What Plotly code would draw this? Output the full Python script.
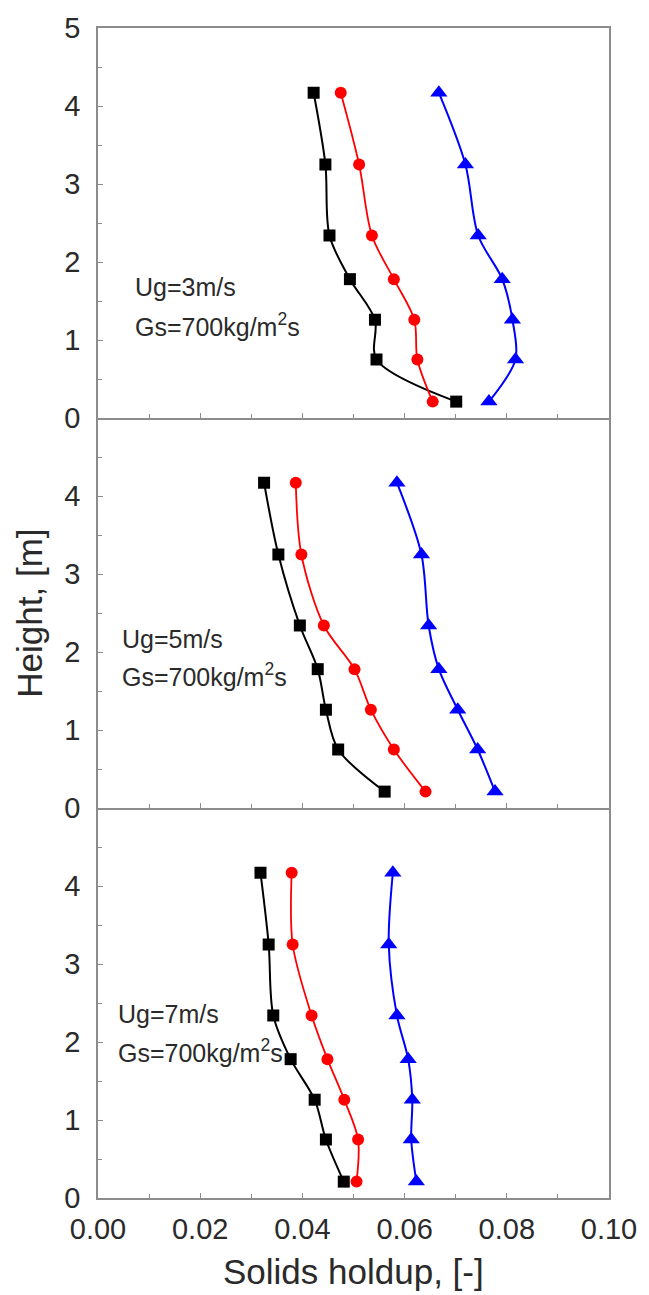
import plotly.graph_objects as go
from plotly.subplots import make_subplots

# Heights [m]
height = [4.17, 3.25, 2.34, 1.78, 1.26, 0.75, 0.21]

# Ug = 3 m/s (top panel)
ug3_black = [0.0422, 0.0445, 0.0453, 0.0493, 0.0542, 0.0545, 0.0701]
ug3_red = [0.0475, 0.0511, 0.0536, 0.0579, 0.0619, 0.0625, 0.0655]
ug3_blue = [0.0667, 0.0719, 0.0744, 0.0791, 0.0811, 0.0817, 0.0765]

# Ug = 5 m/s (middle panel)
ug5_black = [0.0325, 0.0353, 0.0395, 0.0430, 0.0446, 0.0470, 0.0561]
ug5_red = [0.0387, 0.0398, 0.0442, 0.0502, 0.0534, 0.0579, 0.0641]
ug5_blue = [0.0585, 0.0633, 0.0647, 0.0667, 0.0704, 0.0743, 0.0777]

# Ug = 7 m/s (bottom panel)
ug7_black = [0.0318, 0.0334, 0.0343, 0.0377, 0.0424, 0.0446, 0.0481]
ug7_red = [0.0379, 0.0381, 0.0418, 0.0449, 0.0482, 0.0509, 0.0506]
ug7_blue = [0.0577, 0.0569, 0.0585, 0.0607, 0.0615, 0.0613, 0.0623]

panel_labels = ["Ug=3m/s", "Ug=5m/s", "Ug=7m/s"]
gs_label = "Gs=700kg/m<sup>2</sup>s"
label_pos = [(0.0068, 1.68, 1.19), (0.0044, 2.17, 1.70), (0.0036, 2.36, 1.88)]

x_ticks = [0.00, 0.02, 0.04, 0.06, 0.08, 0.10]
x_ticktext = ["0.00", "0.02", "0.04", "0.06", "0.08", "0.10"]

panels = [
    (ug3_black, ug3_red, ug3_blue),
    (ug5_black, ug5_red, ug5_blue),
    (ug7_black, ug7_red, ug7_blue),
]

fig = make_subplots(rows=3, cols=1, shared_xaxes=True, vertical_spacing=0)

styles = [
    dict(color="#000000", symbol="square", size=12, lw=2),
    dict(color="#ff0000", symbol="circle", size=12, lw=1.8),
    dict(color="#0000ff", symbol="triangle-up", size=15, lw=2),
]

for r, series in enumerate(panels, start=1):
    for vals, st in zip(series, styles):
        fig.add_trace(
            go.Scatter(
                x=vals, y=height, mode="lines+markers",
                line=dict(color=st["color"], width=st["lw"], shape="spline", smoothing=0.9),
                marker=dict(symbol=st["symbol"], size=st["size"], color=st["color"]),
                showlegend=False,
            ),
            row=r, col=1,
        )

axis_color = "#8c8c8c"
tick_font = dict(family="Liberation Sans, Arial", size=29, color="#2a2a2a")

for r in range(1, 4):
    fig.update_xaxes(
        range=[0, 0.1], tickvals=x_ticks, ticktext=x_ticktext,
        showticklabels=(r == 3), ticks="inside", ticklen=5, tickcolor=axis_color,
        minor=dict(dtick=0.01, ticks="inside", ticklen=4, tickcolor=axis_color),
        showline=True, linecolor=axis_color, linewidth=1.5, mirror=(r == 1),
        showgrid=False, zeroline=False, tickfont=tick_font, ticklabelstandoff=4,
        row=r, col=1,
    )
    yt = [0, 1, 2, 3, 4, 5] if r == 1 else [0, 1, 2, 3, 4]
    fig.update_yaxes(
        range=[0, 5], tickvals=yt, ticktext=[str(v) for v in yt],
        ticks="inside", ticklen=5, tickcolor=axis_color,
        minor=dict(dtick=0.5, ticks="inside", ticklen=4, tickcolor=axis_color),
        showline=True, linecolor=axis_color, linewidth=1.5, mirror=True,
        showgrid=False, zeroline=False, tickfont=tick_font, ticklabelstandoff=10,
        row=r, col=1,
    )

ann_font = dict(family="Liberation Sans, Arial", size=25, color="#2a2a2a")
for i, (lbl, (xp, y1, y2)) in enumerate(zip(panel_labels, label_pos)):
    xref = "x" if i == 0 else f"x{i+1}"
    yref = "y" if i == 0 else f"y{i+1}"
    fig.add_annotation(x=xp, y=y1, xref=xref, yref=yref, text=lbl, showarrow=False,
                       xanchor="left", yanchor="middle", font=ann_font)
    fig.add_annotation(x=xp, y=y2, xref=xref, yref=yref, text=gs_label, showarrow=False,
                       xanchor="left", yanchor="middle", font=ann_font)

title_font = dict(family="Liberation Sans, Arial", size=35, color="#2a2a2a")
fig.add_annotation(x=-0.1357, y=0.5, xref="paper", yref="paper", text="Height, [m]",
                   textangle=-90, showarrow=False, xanchor="center", yanchor="middle",
                   font=title_font)
fig.add_annotation(x=0.5, y=-0.063, xref="paper", yref="paper", text="Solids holdup, [-]",
                   showarrow=False, xanchor="center", yanchor="middle", font=title_font)

fig.update_layout(
    width=649, height=1295,
    margin=dict(l=98, r=35, t=23, b=97),
    paper_bgcolor="white", plot_bgcolor="white",
    showlegend=False,
)

fig.write_html("out.html")
